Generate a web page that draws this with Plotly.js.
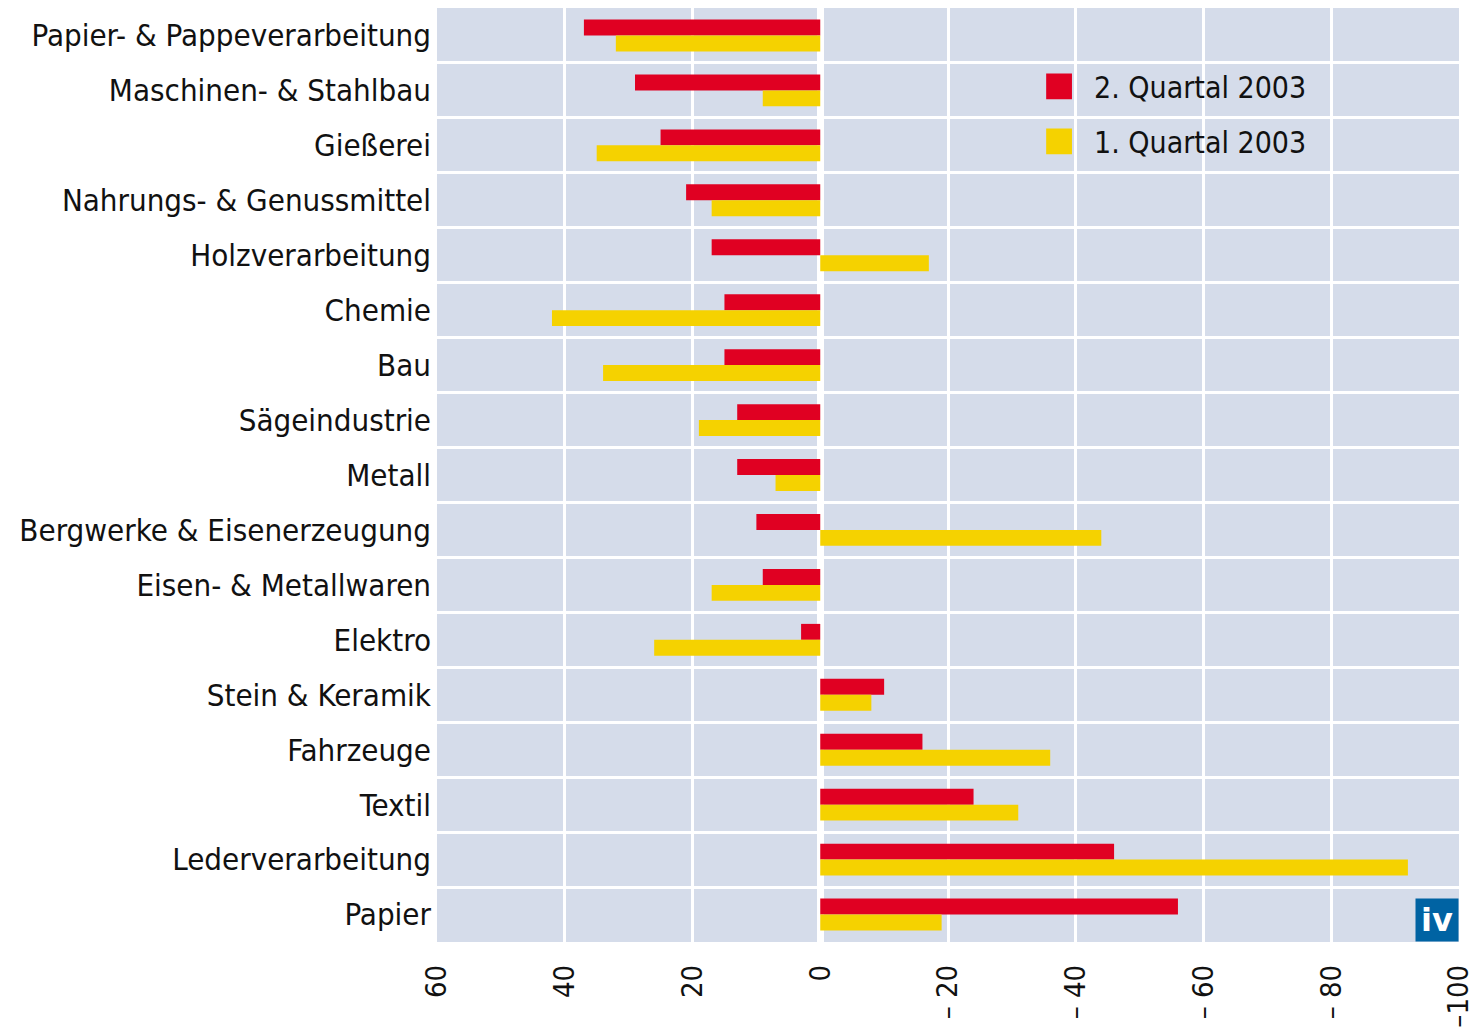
<!DOCTYPE html>
<html>
<head>
<meta charset="utf-8">
<script src="https://cdn.plot.ly/plotly-3.0.1.min.js"></script>
<style>html,body{margin:0;padding:0;background:#fff;}#chart{width:1479px;height:1031px;}</style>
</head>
<body>
<div id="chart"></div>
<script>
const categories = ["Papier- & Pappeverarbeitung","Maschinen- & Stahlbau","Gießerei","Nahrungs- & Genussmittel","Holzverarbeitung","Chemie","Bau","Sägeindustrie","Metall","Bergwerke & Eisenerzeugung","Eisen- & Metallwaren","Elektro","Stein & Keramik","Fahrzeuge","Textil","Lederverarbeitung","Papier"];
const q2_2003 = [37, 29, 25, 21, 17, 15, 15, 13, 13, 10, 9, 3, -10, -16, -24, -46, -56];
const q1_2003 = [32, 9, 35, 17, -17, 42, 34, 19, 7, -44, 17, 26, -8, -36, -31, -92, -19];
const tickVals = [60, 40, 20, 0, -20, -40, -60, -80, -100];
const tickText = ["60", "40", "20", "0", "– 20", "– 40", "– 60", "– 80", "–100"];
const seriesNames = ["2. Quartal 2003", "1. Quartal 2003"];

const FONT = "DejaVu Sans Condensed, Liberation Sans Narrow, sans-serif";

const traces = [
  {type:"bar", orientation:"h", name:seriesNames[0], legendgroup:"a", y:categories, x:q2_2003, marker:{color:"#e00022"}},
  {type:"bar", orientation:"h", name:seriesNames[1], legendgroup:"b", y:categories, x:q1_2003, marker:{color:"#f5d200"}}
];

const layout = {
  width:1479, height:1031,
  paper_bgcolor:"#ffffff", plot_bgcolor:"#d5dcea",
  margin:{l:437, r:20, t:8, b:89},
  barmode:"group", bargap:0.42, bargroupgap:0,
  font:{family:FONT, color:"#111", size:28},
  showlegend:true,
  legend:{x:0.594, y:0.944, xanchor:"left", yanchor:"top", bgcolor:"rgba(0,0,0,0)", font:{family:FONT, size:30, color:"#111"}, itemwidth:40, tracegroupgap:13},
  xaxis:{range:[60,-100], tickvals:tickVals, ticktext:tickText, tickangle:-90, ticklabelstandoff:16, showgrid:true, gridcolor:"#ffffff", gridwidth:3, zeroline:true, zerolinecolor:"#ffffff", zerolinewidth:7, ticks:"", tickfont:{family:FONT, size:29, color:"#111"}, fixedrange:true},
  yaxis:{type:"category", autorange:"reversed", tickson:"boundaries", ticklabelstandoff:5, showgrid:true, gridcolor:"#ffffff", gridwidth:3, ticks:"", tickfont:{family:FONT, size:31, color:"#111"}, fixedrange:true},
  annotations:[{xref:"paper", yref:"paper", x:1, y:0, xanchor:"right", yanchor:"bottom", text:"<b>iv</b>", showarrow:false, bgcolor:"#0063a3", font:{family:"DejaVu Sans, sans-serif", size:32, color:"#ffffff"}, width:42, height:42, borderpad:0}]
};

Plotly.newPlot("chart", traces, layout, {displayModeBar:false, staticPlot:true}).then(function(gd){
  // enlarge legend swatches to match the reference's square markers
  gd.querySelectorAll(".legend .legendpoints path").forEach(function(p){
    p.setAttribute("transform", "translate(15,0) scale(2.15)");
  });
});
</script>
</body>
</html>
